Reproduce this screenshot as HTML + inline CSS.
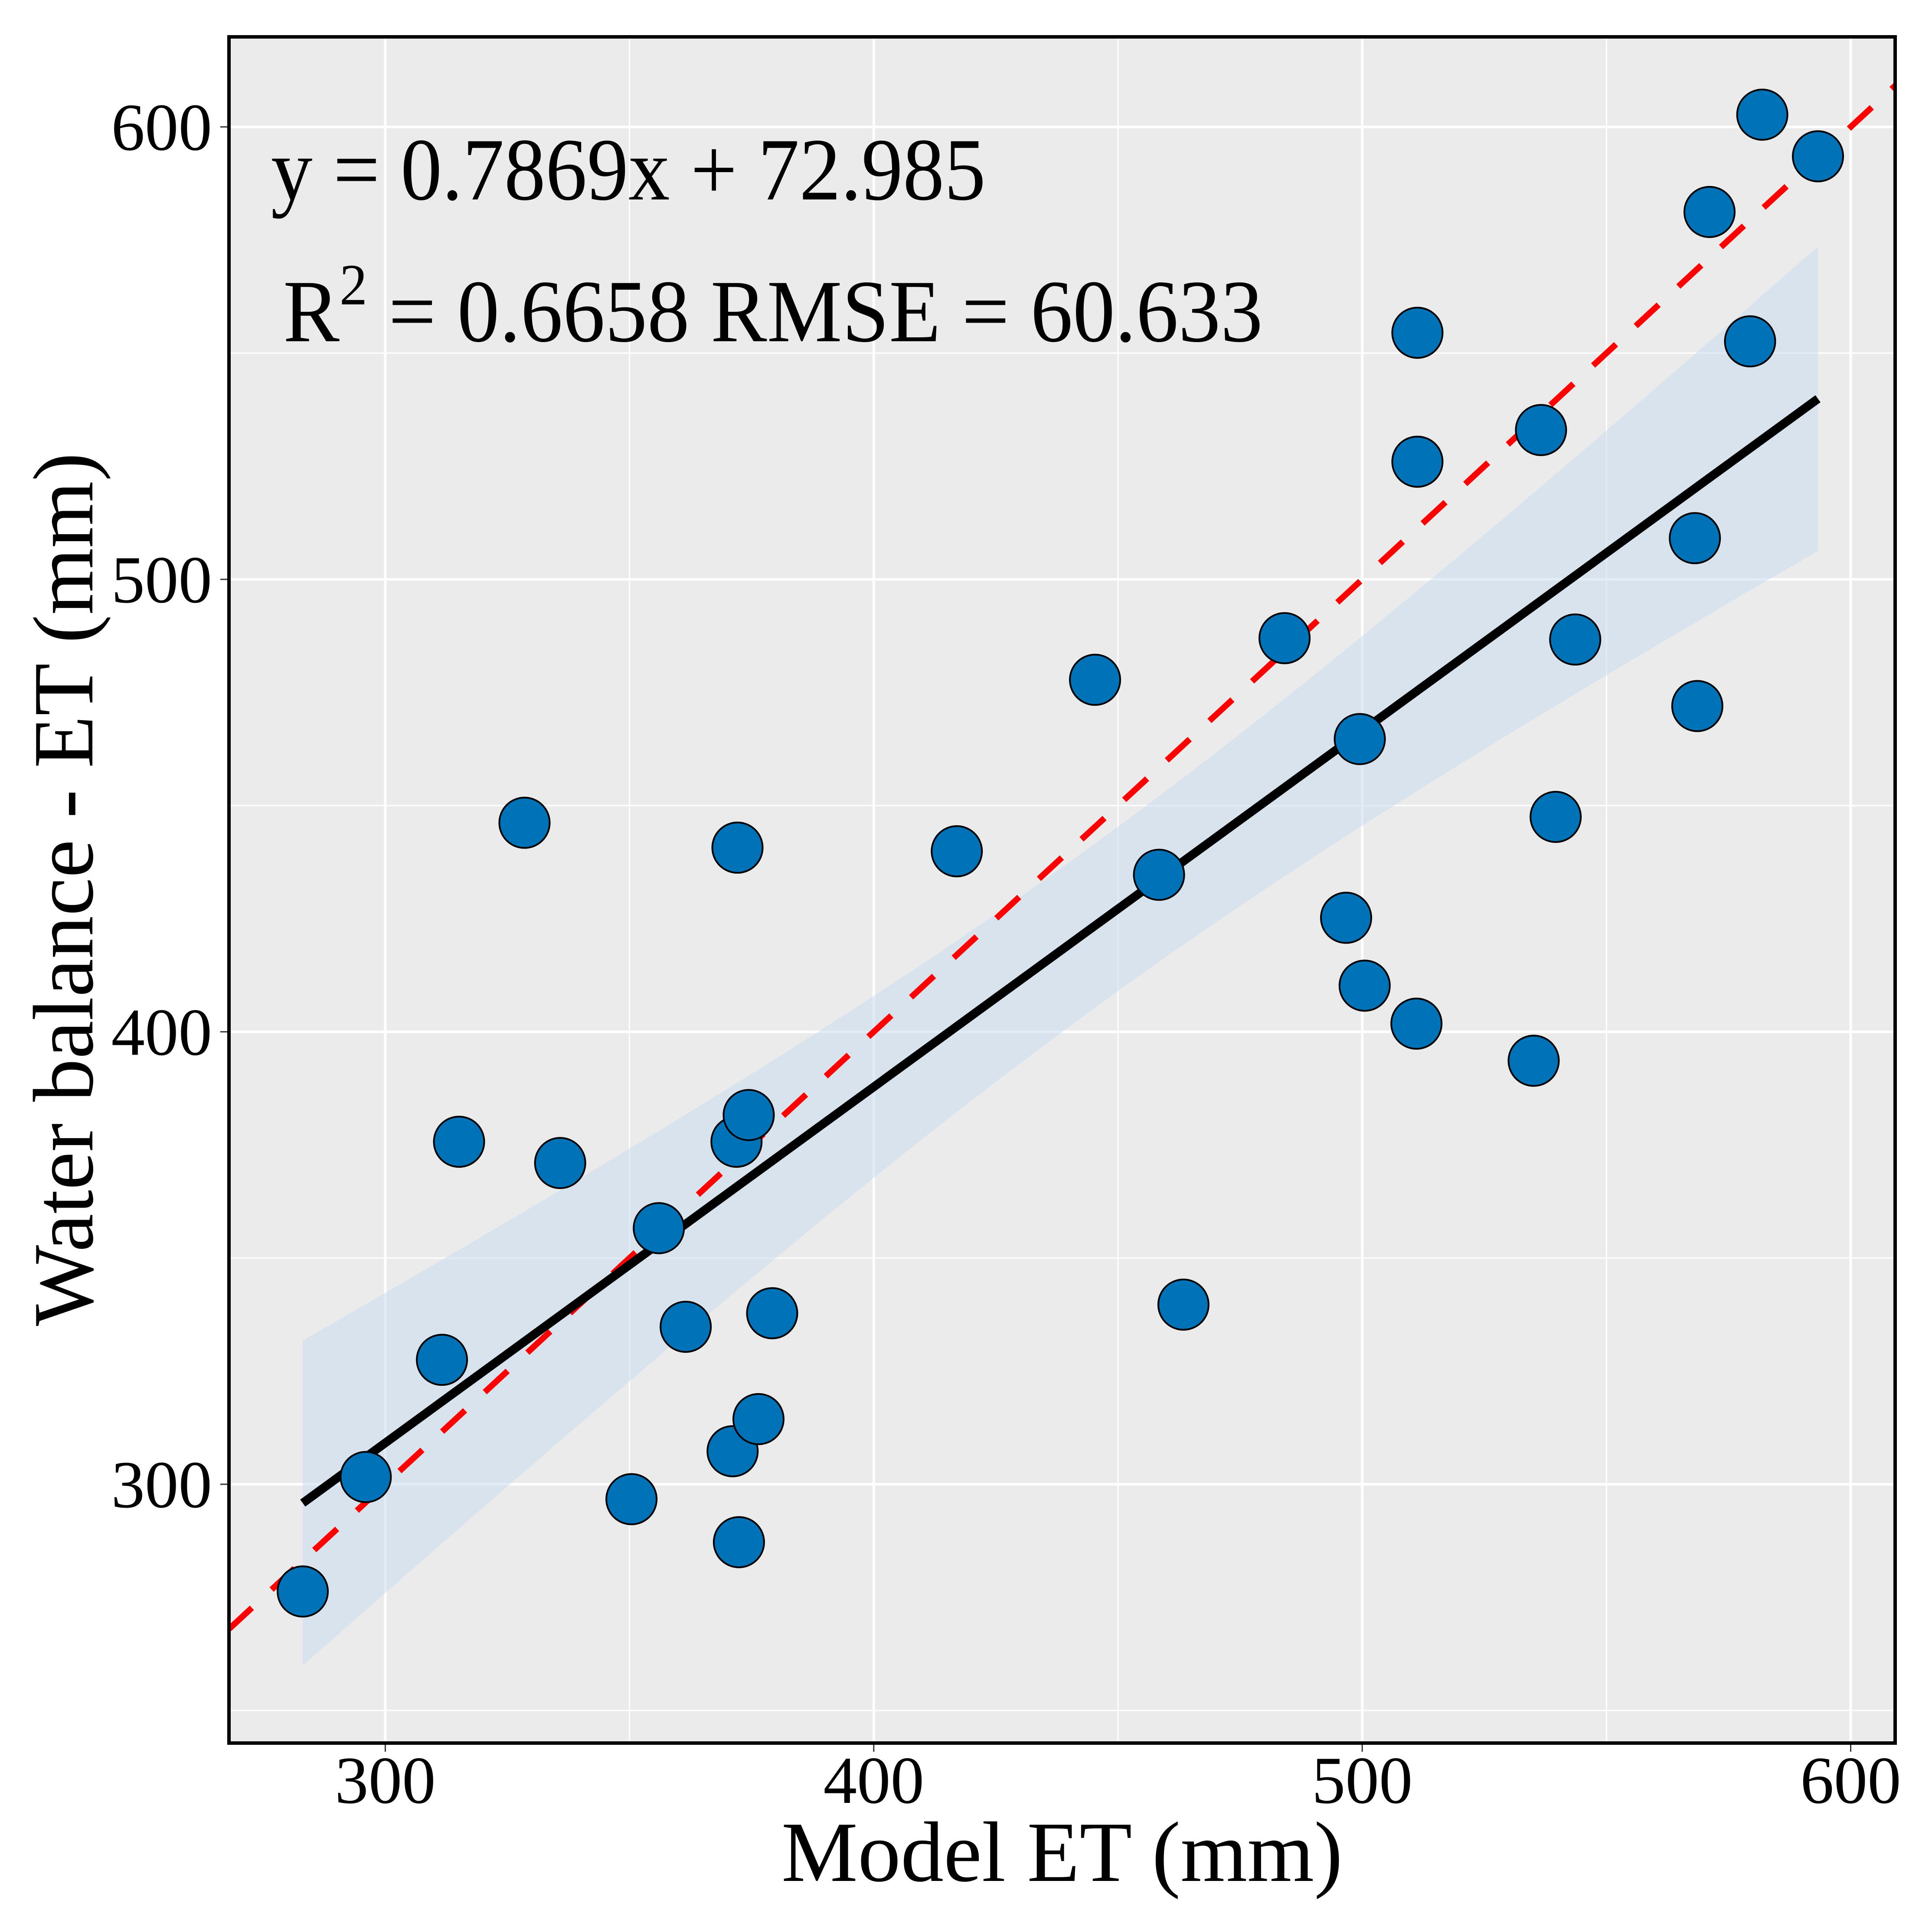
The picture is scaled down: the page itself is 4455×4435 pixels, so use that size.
<!DOCTYPE html>
<html><head><meta charset="utf-8"><style>
html,body{margin:0;padding:0;background:#fff;}
svg{display:block;}
text{font-family:"Liberation Serif",serif;fill:#000;}
</style></head><body>
<svg id="chart" width="4455" height="4435" viewBox="0 0 4455 4435" xmlns="http://www.w3.org/2000/svg">
<defs><clipPath id="pclip"><rect x="528" y="85" width="3842" height="3935"/></clipPath></defs>
<rect x="528" y="85" width="3842" height="3935" fill="#EBEBEB"/>
<g id="grid"></g>
<g id="band" clip-path="url(#pclip)"></g>
<g id="marks" clip-path="url(#pclip)"></g>
<rect x="528" y="85" width="3842" height="3935" fill="none" stroke="#000" stroke-width="8"/>
<g id="axes"></g>
<text x="625" y="460" font-size="205" textLength="1648" lengthAdjust="spacingAndGlyphs">y = 0.7869x + 72.985</text>
<text x="653" y="787" font-size="205" textLength="2259" lengthAdjust="spacingAndGlyphs">R<tspan dy="-85" font-size="135">2</tspan><tspan dy="85"> = 0.6658  RMSE = 60.633</tspan></text>
<text x="2449" y="4338" font-size="198" text-anchor="middle">Model ET (mm)</text>
<text x="0" y="0" font-size="198" text-anchor="middle" transform="translate(213,2051) rotate(-90)">Water balance - ET (mm)</text>
</svg>
<script>
const xVals=[283.1,296,311.6,315.1,328.5,335.8,350.4,356,361.5,371.1,372.4,371.9,374.4,372.1,376.4,379.2,417,445.3,458.4,463.4,484.1,496.7,499.5,500.5,511.1,511.3,511.3,535.1,536.6,539.6,543.6,568.1,568.6,571.1,579.4,581.9,593.3];
const yVals=[276.3,301.6,327.5,375.7,446.2,371,296.7,356.6,334.8,307.3,287.2,375.7,381.6,440.7,314.4,337.8,439.9,477.8,434.7,339.7,487,425.2,464.7,410.2,401.8,526,554.5,393.6,533,447.5,486.7,509.1,472,581.2,552.6,602.7,593.5];
const xTicks=[300,400,500,600];
const yTicks=[300,400,500,600];
const xMinor=[350,450,550];
const yMinor=[250,350,450,550];
const X0=528,X1=4370,Y0=85,Y1=4020;
const xDom=[268,609.1],yDom=[242.8,619.9];
function sx(v){return X0+(v-xDom[0])/(xDom[1]-xDom[0])*(X1-X0);}
function sy(v){return Y1-(v-yDom[0])/(yDom[1]-yDom[0])*(Y1-Y0);}
const NS='http://www.w3.org/2000/svg';
function mk(tag,attrs,parent){const e=document.createElementNS(NS,tag);for(const k in attrs)e.setAttribute(k,attrs[k]);parent.appendChild(e);return e;}
const grid=document.getElementById('grid'),band=document.getElementById('band'),marks=document.getElementById('marks'),axes=document.getElementById('axes');
xMinor.forEach(v=>{const l=mk('line',{x1:sx(v),x2:sx(v),y1:Y0,y2:Y1,stroke:'#fff','stroke-width':3},grid);

});
yMinor.forEach(v=>{const l=mk('line',{x1:X0,x2:X1,y1:sy(v),y2:sy(v),stroke:'#fff','stroke-width':3},grid);

});
xTicks.forEach(v=>{const l=mk('line',{x1:sx(v),x2:sx(v),y1:Y0,y2:Y1,stroke:'#fff','stroke-width':6},grid);


const t=mk('line',{x1:sx(v),x2:sx(v),y1:Y1+4,y2:Y1+20,stroke:'#333','stroke-width':3},axes);


const tx=mk('text',{x:sx(v),y:4158,'font-size':155,'text-anchor':'middle'},axes);tx.textContent=v;

});
yTicks.forEach(v=>{const l=mk('line',{x1:X0,x2:X1,y1:sy(v),y2:sy(v),stroke:'#fff','stroke-width':6},grid);


const t=mk('line',{x1:X0-20,x2:X0-4,y1:sy(v),y2:sy(v),stroke:'#333','stroke-width':3},axes);


const tx=mk('text',{x:489,y:sy(v)+53,'font-size':155,'text-anchor':'end'},axes);tx.textContent=v;

});
const n=xVals.length;const mx=xVals.reduce((a,b)=>a+b)/n,my=yVals.reduce((a,b)=>a+b)/n;
let sxx=0,sxy=0;for(let i=0;i<n;i++){sxx+=(xVals[i]-mx)**2;sxy+=(xVals[i]-mx)*(yVals[i]-my);}
const b=sxy/sxx,a=my-b*mx;let sse=0;for(let i=0;i<n;i++)sse+=(yVals[i]-a-b*xVals[i])**2;
const s=Math.sqrt(sse/(n-2)),tq=2.03;
const xmin=Math.min(...xVals),xmax=Math.max(...xVals);
const up=[],lo=[];for(let k=0;k<=60;k++){const x=xmin+(xmax-xmin)*k/60;const h=tq*s*Math.sqrt(1/n+(x-mx)**2/sxx);const f=a+b*x;up.push([sx(x),sy(f+h)]);lo.push([sx(x),sy(f-h)]);}
const pts=up.concat(lo.reverse()).map(p=>p.join(',')).join(' ');
const poly=mk('polygon',{points:pts,fill:'#c9dcef','fill-opacity':0.55},band);


const one=mk('line',{x1:sx(xDom[0]),y1:sy(xDom[0]),x2:sx(yDom[1]),y2:sy(yDom[1]),stroke:'#ff0000','stroke-width':14,'stroke-dasharray':'72 62'},marks);


const reg=mk('line',{x1:sx(xmin),y1:sy(a+b*xmin),x2:sx(xmax),y2:sy(a+b*xmax),stroke:'#000','stroke-width':20},marks);


for(let i=0;i<n;i++){const c=mk('circle',{cx:sx(xVals[i]),cy:sy(yVals[i]),r:58,fill:'#0072B8',stroke:'#000','stroke-width':4},marks);

}
</script>
</body></html>
